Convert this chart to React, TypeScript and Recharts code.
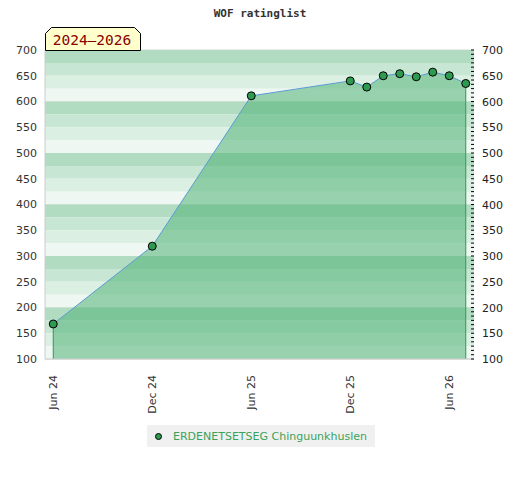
import React from 'react';
import {
  AreaChart, Area, XAxis, YAxis, CartesianGrid, ReferenceArea, ReferenceLine,
} from 'recharts';

// month index from Jun 2024
const months = [0, 6, 12, 18, 19, 20, 21, 22, 23, 24, 25];
const ratings = [168, 319, 611, 640, 628, 650, 654, 648, 657, 650, 635];
const tickMonths = [0, 6, 12, 18, 24];
const tickLabels = ['Jun 24', 'Dec 24', 'Jun 25', 'Dec 25', 'Jun 26'];
const playerName = 'ERDENETSETSEG Chinguunkhuslen';
const periodLabel = '2024–2026';

const data = months.map((m, i) => ({ m, rating: ratings[i] }));

const Y_MIN = 100;
const Y_MAX = 700;
const stripeColors = ['#b2dcc2', '#c8e6d4', '#dcefe3', '#eff7f2'];
const stripes: { y1: number; y2: number; fill: string }[] = [];
for (let v = Y_MAX, i = 0; v > Y_MIN; v -= 25, i++) {
  stripes.push({ y1: v - 25, y2: v, fill: stripeColors[i % 4] });
}
const leftTicks: number[] = [];
for (let v = Y_MIN; v <= Y_MAX; v += 50) leftTicks.push(v);
const rightTicks: number[] = [];
for (let i = 0; i <= 72; i++) rightTicks.push(Y_MIN + (i * 50) / 6);

const font = '"DejaVu Sans", sans-serif';
const mono = '"DejaVu Sans Mono", monospace';

const RightTick = (props: any) => {
  const { x, y, payload } = props;
  const v = payload.value;
  const major = Math.abs(v / 50 - Math.round(v / 50)) < 1e-6;
  return (
    <g>
      <line x1={x - 11} x2={x - 8} y1={y} y2={y} stroke="#000" strokeWidth={1} />
      {major && (
        <text x={x} y={y} dy={4} fontSize={11} fill="#222" fontFamily={font}>
          {Math.round(v)}
        </text>
      )}
    </g>
  );
};

const XTick = (props: any) => {
  const { x, y, payload } = props;
  const label = tickLabels[tickMonths.indexOf(payload.value)] ?? '';
  return (
    <text
      x={x + 4}
      y={y + 8}
      transform={`rotate(-90 ${x + 4} ${y + 8})`}
      textAnchor="end"
      fontSize={11}
      fill="#333"
      fontFamily={font}
    >
      {label}
    </text>
  );
};

const first = data[0];
const last = data[data.length - 1];

export default function App() {
  return (
    <div style={{ position: 'relative', width: 520, height: 480, background: '#fff' }}>
      <style>{'body{margin:0}'}</style>
      <div
        style={{
          position: 'absolute', top: 7, left: 0, width: 520, textAlign: 'center',
          fontFamily: mono, fontWeight: 'bold', fontSize: 11, color: '#333',
        }}
      >
        WOF ratinglist
      </div>
      <AreaChart
        width={520}
        height={480}
        data={data}
        margin={{ top: 50, right: 0, bottom: 61, left: 0 }}
      >
        {stripes.map((s, i) => (
          <ReferenceArea key={i} yAxisId="l" y1={s.y1} y2={s.y2} fill={s.fill} fillOpacity={1} stroke="none" ifOverflow="hidden" />
        ))}
        <CartesianGrid yAxisId="l" vertical={false} horizontalValues={[100, 200, 300, 400, 500, 600, 700]} stroke="#d8d8d8" />
        <XAxis
          dataKey="m"
          type="number"
          domain={[-0.5, 25.5]}
          ticks={tickMonths}
          height={60}
          tickLine={false}
          axisLine={{ stroke: '#ccc' }}
          tick={<XTick />}
          interval={0}
        />
        <YAxis
          yAxisId="l"
          domain={[Y_MIN, Y_MAX]}
          ticks={leftTicks}
          width={45}
          tickLine={false}
          axisLine={{ stroke: '#ccc' }}
          tick={{ fontSize: 11, fill: '#333', fontFamily: font }}
          allowDataOverflow
        />
        <YAxis
          yAxisId="r"
          orientation="right"
          domain={[Y_MIN, Y_MAX]}
          ticks={rightTicks}
          width={46}
          tickLine={false}
          tickSize={8}
          tickMargin={0}
          axisLine={false}
          tick={<RightTick />}
          interval={0}
          allowDataOverflow
        />
        <Area
          yAxisId="l"
          type="linear"
          dataKey="rating"
          stroke="#5b9bd5"
          strokeWidth={1}
          fill="#50b377"
          fillOpacity={0.55}
          baseValue={Y_MIN}
          isAnimationActive={false}
          dot={{ r: 4, fill: '#2e9a50', fillOpacity: 1, stroke: '#000', strokeWidth: 1 }}
          activeDot={false}
        />
        <ReferenceLine yAxisId="l" segment={[{ x: first.m, y: Y_MIN }, { x: first.m, y: first.rating }]} stroke="#2e9a50" />
        <ReferenceLine yAxisId="l" segment={[{ x: last.m, y: Y_MIN }, { x: last.m, y: last.rating }]} stroke="#2e9a50" />
      </AreaChart>
      <svg style={{ position: 'absolute', left: 0, top: 0 }} width={150} height={55}>
        <polygon points="45.5,50.5 45.5,33.5 51.5,27.5 134.5,27.5 140.5,33.5 140.5,50.5" fill="#ffffcc" stroke="#000" strokeWidth={1} />
        <text x={92} y={45} textAnchor="middle" fontSize={14.5} fill="#8b0000" fontFamily={mono}>
          {periodLabel}
        </text>
      </svg>
      <div
        style={{
          position: 'absolute', left: 147, top: 425, width: 228, height: 22, background: '#f0f0f0',
          display: 'flex', alignItems: 'center', fontFamily: font, fontSize: 11, color: '#3aa35a',
        }}
      >
        <span
          style={{
            display: 'inline-block', width: 5, height: 5, borderRadius: '50%', background: '#2e9a50',
            border: '1px solid #000', marginLeft: 8, marginRight: 11,
          }}
        />
        {playerName}
      </div>
    </div>
  );
}
